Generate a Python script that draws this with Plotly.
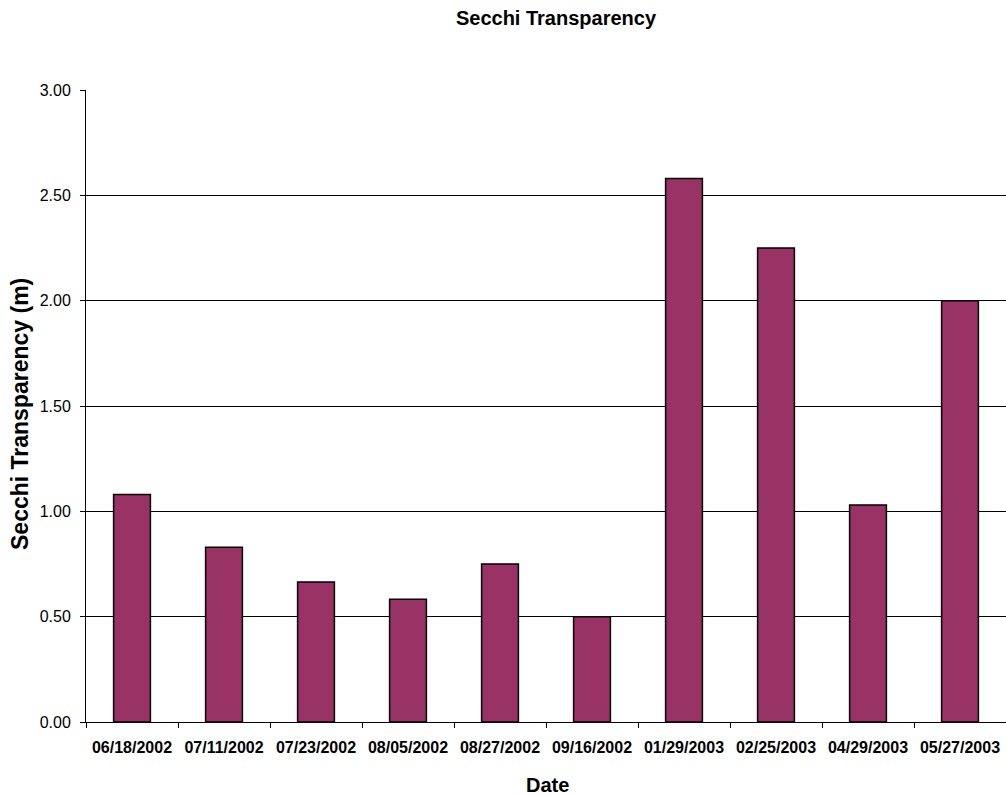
import plotly.graph_objects as go

dates = ["06/18/2002", "07/11/2002", "07/23/2002", "08/05/2002", "08/27/2002",
         "09/16/2002", "01/29/2003", "02/25/2003", "04/29/2003", "05/27/2003"]
secchi_m = [1.08, 0.83, 0.665, 0.583, 0.75, 0.50, 2.58, 2.25, 1.03, 2.00]
y_ticks = [0, 0.5, 1.0, 1.5, 2.0, 2.5, 3.0]

FONT = "Liberation Sans, Arial, sans-serif"
W, H = 1006, 795

fig = go.Figure(go.Bar(
    x=dates, y=secchi_m, width=0.4,
    marker=dict(color="#993366", line=dict(color="black", width=1.5)),
))

fig.update_layout(
    width=W, height=H,
    margin=dict(l=86, r=0, t=90, b=73, autoexpand=False),
    paper_bgcolor="white", plot_bgcolor="white",
    font=dict(family=FONT, color="black"),
    title=dict(text="<b>Secchi Transparency</b>", x=556 / W, xref="container",
               xanchor="center", y=1 - 18 / H, yref="container",
               yanchor="middle", font=dict(size=20)),
    showlegend=False,
    annotations=[
        dict(text="<b>Secchi Transparency (m)</b>", textangle=-90,
             xref="paper", yref="paper",
             x=(20 - 86) / (W - 86), y=(H - 73 - 414) / (H - 90 - 73),
             xanchor="center", yanchor="middle", showarrow=False,
             font=dict(size=23)),
        dict(text="<b>Date</b>", xref="paper", yref="paper",
             x=(547 - 86) / (W - 86), y=(H - 73 - 785) / (H - 90 - 73),
             xanchor="center", yanchor="middle", showarrow=False,
             font=dict(size=20)),
    ],
)
fig.update_xaxes(
    type="category", showline=True, linecolor="black", linewidth=1,
    ticks="outside", tickson="boundaries", ticklen=5, tickcolor="black",
    tickfont=dict(size=16, family=FONT),
    tickprefix="<b>", ticksuffix="</b>",
    ticklabelstandoff=11,
    showgrid=False, automargin=False,
)
fig.update_yaxes(
    range=[0, 3.0], tickvals=y_ticks, tickformat=".2f",
    showline=True, linecolor="black", linewidth=1,
    ticks="outside", ticklen=5, tickcolor="black",
    tickfont=dict(size=16), ticklabelstandoff=6,
    showgrid=True, gridcolor="black", gridwidth=1,
    zeroline=False, automargin=False,
)

fig.write_html("out.html", config={"displayModeBar": False},
               post_script="document.body.style.margin='0';")
